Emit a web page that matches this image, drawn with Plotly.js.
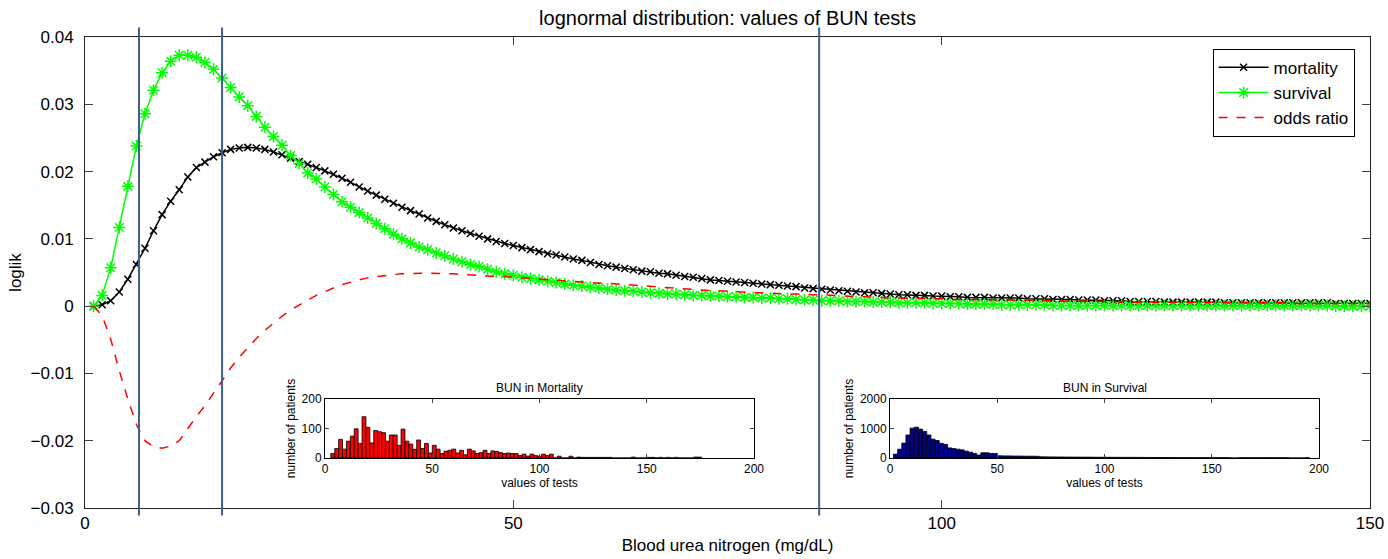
<!DOCTYPE html>
<html>
<head>
<meta charset="utf-8">
<script src="https://cdn.plot.ly/plotly-3.0.1.min.js"></script>
<style>html,body{margin:0;padding:0;background:#fff;}#chart{width:1388px;height:559px;}</style>
</head>
<body>
<div id="chart"></div>
<script>
// x = 1..150 (Blood urea nitrogen, mg/dL), step 1
var xStart = 1, xStep = 1;
var mortality = [
0.0000,0.0002,0.0008,0.0021,0.0040,0.0062,0.0086,0.0112,0.0136,0.0156,
0.0173,0.0192,0.0206,0.0214,0.0222,0.0228,0.0233,0.0235,0.0236,0.0235,
0.0233,0.0229,0.0225,0.0220,0.0215,0.0211,0.0206,0.0201,0.0196,0.0190,
0.0184,0.0177,0.0171,0.0165,0.0159,0.0153,0.0147,0.0142,0.0137,0.0131,
0.0126,0.0121,0.0116,0.0112,0.0108,0.0104,0.0100,0.0096,0.0093,0.0090,
0.0087,0.0084,0.0081,0.0078,0.0076,0.0073,0.0070,0.0068,0.0065,0.0062,
0.0060,0.0058,0.0056,0.0054,0.0052,0.0051,0.0049,0.0048,0.0046,0.0044,
0.0043,0.0041,0.0039,0.0038,0.0037,0.0036,0.0035,0.0034,0.0033,0.0032,
0.0031,0.0030,0.0029,0.0027,0.0026,0.0025,0.0024,0.0023,0.0022,0.0021,
0.0020,0.0020,0.0019,0.0018,0.0017,0.0017,0.0016,0.0016,0.0015,0.0015,
0.0014,0.0014,0.0013,0.0013,0.0013,0.0012,0.0012,0.0012,0.0012,0.0011,
0.0011,0.0011,0.0010,0.0010,0.0010,0.0009,0.0009,0.0009,0.0008,0.0008,
0.0008,0.0007,0.0007,0.0007,0.0007,0.0006,0.0006,0.0006,0.0006,0.0006,
0.0006,0.0006,0.0005,0.0005,0.0005,0.0005,0.0005,0.0005,0.0005,0.0005,
0.0005,0.0005,0.0005,0.0005,0.0005,0.0004,0.0004,0.0004,0.0004,0.0004];
var survival = [
0.0000,0.0016,0.0057,0.0117,0.0178,0.0238,0.0286,0.0321,0.0347,0.0364,
0.0373,0.0373,0.0370,0.0362,0.0352,0.0339,0.0325,0.0311,0.0298,0.0282,
0.0266,0.0252,0.0239,0.0224,0.0212,0.0198,0.0189,0.0177,0.0166,0.0155,
0.0147,0.0139,0.0131,0.0123,0.0115,0.0107,0.0100,0.0094,0.0088,0.0084,
0.0079,0.0075,0.0070,0.0066,0.0062,0.0059,0.0055,0.0051,0.0048,0.0046,
0.0043,0.0041,0.0039,0.0037,0.0035,0.0033,0.0031,0.0030,0.0028,0.0027,
0.0025,0.0024,0.0023,0.0022,0.0021,0.0020,0.0019,0.0018,0.0018,0.0017,
0.0016,0.0016,0.0015,0.0015,0.0014,0.0014,0.0013,0.0013,0.0012,0.0012,
0.0011,0.0011,0.0010,0.0009,0.0009,0.0008,0.0008,0.0008,0.0007,0.0007,
0.0007,0.0006,0.0006,0.0006,0.0005,0.0005,0.0005,0.0005,0.0004,0.0004,
0.0004,0.0004,0.0003,0.0003,0.0003,0.0003,0.0002,0.0002,0.0002,0.0002,
0.0002,0.0002,0.0001,0.0001,0.0001,0.0001,0.0001,0.0001,0.0001,0.0001,
0.0001,0.0001,0.0001,0.0001,0.0001,0.0001,0.0001,0.0001,0.0001,0.0001,
0.0001,0.0001,0.0001,0.0001,0.0001,0.0001,0.0001,0.0001,0.0001,0.0001,
0.0001,0.0001,0.0001,0.0001,0.0001,0.0000,0.0000,0.0000,0.0000,0.0000];
var oddsRatio = [
0.0000,-0.0014,-0.0049,-0.0096,-0.0138,-0.0176,-0.0200,-0.0209,-0.0211,-0.0208,
-0.0200,-0.0181,-0.0164,-0.0148,-0.0130,-0.0111,-0.0092,-0.0076,-0.0062,-0.0048,
-0.0036,-0.0025,-0.0015,-0.0006,0.0002,0.0009,0.0016,0.0022,0.0027,0.0032,
0.0036,0.0039,0.0042,0.0044,0.0046,0.0047,0.0048,0.0049,0.0049,0.0049,
0.0049,0.0049,0.0048,0.0047,0.0046,0.0045,0.0045,0.0044,0.0044,0.0043,
0.0043,0.0042,0.0041,0.0040,0.0039,0.0038,0.0037,0.0036,0.0035,0.0034,
0.0034,0.0033,0.0032,0.0031,0.0030,0.0029,0.0028,0.0027,0.0026,0.0025,
0.0025,0.0024,0.0023,0.0023,0.0022,0.0021,0.0021,0.0020,0.0020,0.0019,
0.0019,0.0018,0.0018,0.0017,0.0017,0.0017,0.0016,0.0015,0.0015,0.0014,
0.0014,0.0013,0.0013,0.0012,0.0012,0.0012,0.0011,0.0011,0.0011,0.0011,
0.0010,0.0010,0.0010,0.0010,0.0010,0.0009,0.0009,0.0009,0.0009,0.0009,
0.0009,0.0008,0.0008,0.0008,0.0008,0.0008,0.0008,0.0007,0.0007,0.0007,
0.0006,0.0006,0.0006,0.0006,0.0006,0.0006,0.0005,0.0005,0.0005,0.0005,
0.0005,0.0005,0.0005,0.0005,0.0005,0.0005,0.0005,0.0005,0.0005,0.0005,
0.0004,0.0004,0.0004,0.0004,0.0004,0.0004,0.0004,0.0004,0.0004,0.0004];
var cutoffs = [6.3, 16, 85.7];

// Inset histograms: counts per bin
var mortBinStart = 3.6, mortBinWidth = 1.82;
var mortCounts = [15,32,63,30,57,74,99,49,140,104,51,93,89,86,57,78,78,43,98,57,
47,29,61,32,49,17,43,30,15,23,26,30,17,26,11,30,24,15,18,26,
15,24,22,18,15,17,15,15,8,13,6,13,8,6,13,8,13,
0,6,0,0,6,0,3,2,2,2,2,2,2,2,2,0,0,0,0,0,3,0,0,0,2,2,0,2,0,2,0,2,0,0,0,0,3,3];
var survBinStart = 2.56, survBinWidth = 1.94;
var survCounts = [132,297,505,780,1011,1044,978,901,780,637,593,495,462,341,319,297,275,231,198,154,
99,176,176,154,154,
75,70,70,68,65,65,62,60,60,58,
40,38,36,35,34,33,32,31,30,30,29,28,27,26,25,25,24,23,22,22,21,20,20,19,19,18,18,17,17,16,
16,15,15,15,14,14,14,13,13,13,12,12,12,12,11,11,
0,0,10,10,10,10,10,10,10,10,10,10,10,10,0,0,0,0,10];
var histTicksX = [0,50,100,150,200];
var mortTicksY = [0,100,200];
var survTicksY = [0,1000,2000];

var FONT = 'Liberation Sans, Arial, Helvetica, sans-serif';

var traces = [
  {type:'scatter', mode:'lines+markers', name:'mortality', x0:xStart, dx:xStep, y:mortality,
   line:{color:'#000000', width:1.5},
   marker:{symbol:'x-thin-open', size:7, color:'#000000', line:{color:'#000000', width:1.5}}},
  {type:'scatter', mode:'lines+markers', name:'survival', x0:xStart, dx:xStep, y:survival,
   line:{color:'#00ff00', width:1.5},
   marker:{symbol:'asterisk-open', size:10, color:'#00ff00', line:{color:'#00ff00', width:1.5}}},
  {type:'scatter', mode:'lines', name:'odds ratio', x0:xStart, dx:xStep, y:oddsRatio,
   line:{color:'#ff0000', width:1.5, dash:'dash'}},
  {type:'bar', x0:mortBinStart, dx:mortBinWidth, y:mortCounts, width:mortBinWidth, xaxis:'x2', yaxis:'y2',
   showlegend:false, marker:{color:'#ff0000', line:{color:'#000000', width:0.8}}},
  {type:'bar', x0:survBinStart, dx:survBinWidth, y:survCounts, width:survBinWidth, xaxis:'x3', yaxis:'y3',
   showlegend:false, marker:{color:'#00008b', line:{color:'#000000', width:0.8}}}
];

var shapes = cutoffs.map(function(c){
  return {type:'line', xref:'x', yref:'paper', x0:c, x1:c, y0:-0.016, y1:1.02,
          line:{color:'#3d5f8c', width:2}};
});

function insetAxisX(dom, anchor){
  return {domain:dom, anchor:anchor, range:[0,200], tickvals:histTicksX, ticks:'inside', ticklen:4,
    showline:true, linecolor:'#000', linewidth:1, mirror:'ticks', showgrid:false, zeroline:false,
    tickfont:{size:12, family:FONT, color:'#000'},
    title:{text:'values of tests', font:{size:12, family:FONT, color:'#000'}, standoff:3}};
}
function insetAxisY(dom, anchor, rng, tv){
  return {domain:dom, anchor:anchor, range:rng, tickvals:tv, ticks:'inside', ticklen:4,
    showline:true, linecolor:'#000', linewidth:1, mirror:'ticks', showgrid:false, zeroline:false,
    tickfont:{size:12, family:FONT, color:'#000'},
    title:{text:'number of patients', font:{size:12, family:FONT, color:'#000'}, standoff:3}};
}

var insetY = [0.1062, 0.2314];
var layout = {
  width:1388, height:559,
  margin:{l:85, r:18, t:37, b:51},
  paper_bgcolor:'#ffffff', plot_bgcolor:'#ffffff',
  font:{family:FONT, color:'#000', size:17},
  title:{text:'lognormal distribution: values of BUN tests', font:{size:20, family:FONT, color:'#000'},
         x:0.5, xref:'paper', y:0.968, yanchor:'middle'},
  showlegend:true,
  legend:{x:0.988, xanchor:'right', y:0.975, yanchor:'top', bgcolor:'#ffffff', bordercolor:'#000',
          borderwidth:1, itemwidth:50, font:{size:17, family:FONT, color:'#000'}},
  bargap:0,
  xaxis:{domain:[0,1], range:[0,150], tickvals:[0,50,100,150], ticks:'inside', ticklen:8,
    showline:true, linecolor:'#222', linewidth:1, mirror:'ticks', showgrid:false, zeroline:false,
    tickfont:{size:17}, title:{text:'Blood urea nitrogen (mg/dL)', font:{size:17}, standoff:6}},
  yaxis:{domain:[0,1], range:[-0.03,0.04], dtick:0.01, tick0:0, ticks:'inside', ticklen:8,
    showline:true, linecolor:'#222', linewidth:1, mirror:'ticks', showgrid:false, zeroline:false,
    ticklabelstandoff:7,
    tickfont:{size:17}, title:{text:'loglik', font:{size:17}, standoff:4}},
  xaxis2:insetAxisX([0.1868,0.5206],'y2'),
  yaxis2:insetAxisY(insetY,'x2',[0,200],mortTicksY),
  xaxis3:insetAxisX([0.6265,0.9603],'y3'),
  yaxis3:insetAxisY(insetY,'x3',[0,2000],survTicksY),
  shapes:shapes,
  annotations:[
    {text:'BUN in Mortality', xref:'x2 domain', yref:'y2 domain', x:0.5, y:1.04, xanchor:'center', yanchor:'bottom',
     showarrow:false, font:{size:12, family:FONT, color:'#000'}},
    {text:'BUN in Survival', xref:'x3 domain', yref:'y3 domain', x:0.5, y:1.04, xanchor:'center', yanchor:'bottom',
     showarrow:false, font:{size:12, family:FONT, color:'#000'}}
  ]
};

Plotly.newPlot('chart', traces, layout, {displayModeBar:false, staticPlot:true});
</script>
</body>
</html>
